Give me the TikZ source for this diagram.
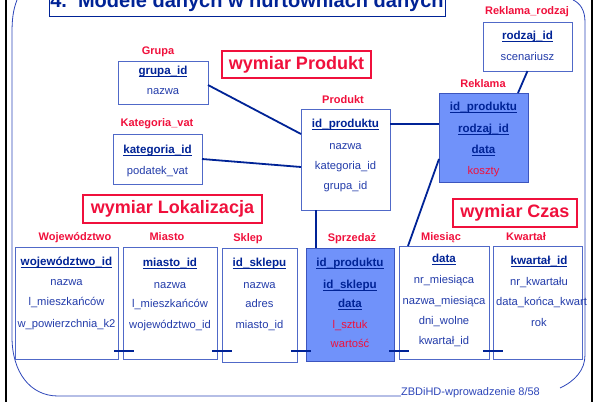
\documentclass[tikz,border=0pt]{standalone}
\usepackage{fontspec}
\setmainfont{Liberation Sans}
\definecolor{navy}{RGB}{0,35,150}
\definecolor{txtblue}{RGB}{35,60,170}
\definecolor{redc}{RGB}{240,16,60}
\definecolor{boxln}{RGB}{80,105,200}
\definecolor{fillb}{RGB}{112,146,250}
\definecolor{filledge}{RGB}{60,85,190}
\definecolor{frameb}{RGB}{45,70,185}
% bold key attribute with a heavy underline
\newcommand{\keyfield}[1]{\setbox0=\hbox{\bfseries #1}\rlap{\rule[-2.8pt]{\wd0}{1.2pt}}\box0}
\begin{document}
\begin{tikzpicture}[x=1pt,y=-1pt,
  tbl/.style={draw=boxln,line width=0.8pt,fill=white,inner sep=0,outer sep=0},
  facttbl/.style={tbl,draw=filledge,fill=fillb},
  tname/.style={anchor=mid,inner sep=0,text=redc,font=\fontsize{11}{13}\selectfont\bfseries},
  fld/.style={anchor=mid,inner sep=0,text=txtblue,font=\fontsize{11.2}{13}\selectfont},
  keyf/.style={fld,text=navy,font=\fontsize{11.6}{13}\selectfont},
  measure/.style={fld,text=redc},
  dimbox/.style={draw=redc,line width=1.6pt,fill=white,inner sep=0,text=redc,font=\fontsize{18}{20}\selectfont\bfseries},
  link/.style={draw=navy,line width=1.8pt},
  tick/.style={draw=navy,line width=2.6pt},
  frame/.style={draw=frameb,line width=0.8pt}]
\useasboundingbox (0,0) rectangle (595,402);
\clip (0,0) rectangle (595,402);

% slide frame
\draw[line width=2.4pt,black] (6,-2) -- (6,404);
\draw[line width=2.4pt,black] (592,-2) -- (592,404);
\node[inner sep=0,anchor=mid,text=frameb,font=\fontsize{11}{13}\selectfont] (footer) at (470.5,393) {ZBDiHD-wprowadzenie 8/58};
\draw[frame] (17,0) .. controls (13,10) and (12,20) .. (12,33) -- (12,337)
  .. controls (12,372) and (30,396) .. (58,396) -- (footer.west |- 0,396);
\draw[frame] (560,388) .. controls (575,381) and (585,370) .. (585,355) -- (585,22)
  .. controls (585,10) and (580,3) .. (573,0);

% title
\node[draw=navy,line width=0.8pt,fill=white,minimum width=396pt,minimum height=40pt,inner sep=0] (titlebox) at (247,-4) {};
\node[anchor=base,inner sep=0,text=navy,font=\fontsize{20}{22}\selectfont\bfseries] (title) at (247,7.5) {4.\ \ Modele danych w hurtowniach danych};

% dimension captions
\node[dimbox,minimum width=149pt,minimum height=27pt] (wprod) at (296.5,64.5) {wymiar Produkt};
\node[dimbox,minimum width=179pt,minimum height=28pt] (wlok) at (172.5,209) {wymiar Lokalizacja};
\node[dimbox,minimum width=124pt,minimum height=28pt] (wczas) at (515,213) {wymiar Czas};

% tables
\node[tbl,minimum width=90pt,minimum height=43pt] (grupa) at (163,82.5) {};
\node[tname] (grupa-t) at (158,52) {Grupa};
\node[keyf] (grupa-1) at (163,72) {\keyfield{grupa\_id}};
\node[fld] (grupa-2) at (163,92) {nazwa};

\node[tbl,minimum width=89pt,minimum height=49pt] (rrodzaj) at (527.5,46.5) {};
\node[tname] (rrodzaj-t) at (527,12) {Reklama\_rodzaj};
\node[keyf] (rrodzaj-1) at (527.5,37) {\keyfield{rodzaj\_id}};
\node[fld] (rrodzaj-2) at (527.5,58) {scenariusz};

\node[facttbl,minimum width=89pt,minimum height=89pt] (reklama) at (483.5,137.5) {};
\node[tname] (reklama-t) at (483,85) {Reklama};
\node[keyf] (reklama-1) at (483.5,108) {\keyfield{id\_produktu}};
\node[keyf] (reklama-2) at (483.5,130) {\keyfield{rodzaj\_id}};
\node[keyf] (reklama-3) at (483.5,151) {\keyfield{data}};
\node[measure] (reklama-4) at (483.5,172) {koszty};

\node[tbl,minimum width=89pt,minimum height=101pt] (produkt) at (345.5,159.5) {};
\node[tname] (produkt-t) at (343,101) {Produkt};
\node[keyf] (produkt-1) at (345.5,125) {\keyfield{id\_produktu}};
\node[fld] (produkt-2) at (345.5,147) {nazwa};
\node[fld] (produkt-3) at (345.5,167) {kategoria\_id};
\node[fld] (produkt-4) at (345.5,187) {grupa\_id};

\node[tbl,minimum width=89pt,minimum height=50pt] (katvat) at (157.5,159) {};
\node[tname] (katvat-t) at (157,124) {Kategoria\_vat};
\node[keyf] (katvat-1) at (157.5,151) {\keyfield{kategoria\_id}};
\node[fld] (katvat-2) at (157.5,172) {podatek\_vat};

\node[tbl,minimum width=103pt,minimum height=112pt] (woj) at (66.5,303) {};
\node[tname] (woj-t) at (75,238) {Województwo};
\node[keyf] (woj-1) at (66.5,263) {\keyfield{województwo\_id}};
\node[fld] (woj-2) at (66.5,283) {nazwa};
\node[fld] (woj-3) at (66.5,303) {l\_mieszkańców};
\node[fld] (woj-4) at (66.5,325) {w\_powierzchnia\_k2};

\node[tbl,minimum width=94pt,minimum height=112pt] (miasto) at (170,303) {};
\node[tname] (miasto-t) at (167,238) {Miasto};
\node[keyf] (miasto-1) at (170,264) {\keyfield{miasto\_id}};
\node[fld] (miasto-2) at (170,286) {nazwa};
\node[fld] (miasto-3) at (170,305) {l\_mieszkańców};
\node[fld] (miasto-4) at (170,326) {województwo\_id};

\node[tbl,minimum width=75pt,minimum height=114pt] (sklep) at (259.5,305) {};
\node[tname] (sklep-t) at (248,239) {Sklep};
\node[keyf] (sklep-1) at (259.5,264) {\keyfield{id\_sklepu}};
\node[fld] (sklep-2) at (259.5,286) {nazwa};
\node[fld] (sklep-3) at (259.5,305) {adres};
\node[fld] (sklep-4) at (259.5,326) {miasto\_id};

\node[facttbl,minimum width=88pt,minimum height=113pt] (sprzedaz) at (350,304.5) {};
\node[tname] (sprzedaz-t) at (352,239) {Sprzedaż};
\node[keyf] (sprzedaz-1) at (350,264) {\keyfield{id\_produktu}};
\node[keyf] (sprzedaz-2) at (350,286) {\keyfield{id\_sklepu}};
\node[keyf] (sprzedaz-3) at (350,305) {\keyfield{data}};
\node[measure] (sprzedaz-4) at (350,326) {l\_sztuk};
\node[measure] (sprzedaz-5) at (350,345) {wartość};

\node[tbl,minimum width=90pt,minimum height=113pt] (miesiac) at (444,302.5) {};
\node[tname] (miesiac-t) at (441,238) {Miesiąc};
\node[keyf] (miesiac-1) at (444,260) {\keyfield{data}};
\node[fld] (miesiac-2) at (444,281) {nr\_miesiąca};
\node[fld] (miesiac-3) at (444,302) {nazwa\_miesiąca};
\node[fld] (miesiac-4) at (444,322) {dni\_wolne};
\node[fld] (miesiac-5) at (444,342) {kwartał\_id};

\node[tbl,minimum width=89pt,minimum height=113pt] (kwartal) at (537.5,302.5) {};
\node[tname] (kwartal-t) at (526,238) {Kwartał};
\node[keyf] (kwartal-1) at (539,262) {\keyfield{kwartał\_id}};
\node[fld] (kwartal-2) at (539,283) {nr\_kwartału};
\node[fld] (kwartal-3) at (541.5,303) {data\_końca\_kwart};
\node[fld] (kwartal-4) at (539,324) {rok};

% relationships
\draw[link] ([yshift=-2.5pt]grupa.east) -- ([yshift=25.5pt]produkt.west);
\draw[link] (katvat.east) -- ([yshift=-7.5pt]produkt.west);
\draw[link] ([yshift=35.5pt]produkt.east) -- ([yshift=13.5pt]reklama.west);
\draw[link] (rrodzaj.south) -- ([xshift=34.5pt]reklama.north);
\draw[link] ([xshift=-29.5pt]produkt.south) -- ([xshift=-34pt]sprzedaz.north);
\draw[link] ([yshift=-21.5pt]reklama.west) -- ([xshift=-36pt]miesiac.north);

\draw[tick] ([xshift=-4pt,yshift=8pt]woj.south east) -- ([xshift=11pt,yshift=8pt]miasto.south west);
\draw[tick] ([xshift=-5pt,yshift=8pt]miasto.south east) -- ([xshift=10pt,yshift=11pt]sklep.south west);
\draw[tick] ([xshift=-6pt,yshift=11pt]sklep.south east) -- ([xshift=5pt,yshift=10pt]sprzedaz.south west);
\draw[tick] ([xshift=-5pt,yshift=10pt]sprzedaz.south east) -- ([xshift=10pt,yshift=8pt]miesiac.south west);
\draw[tick] ([xshift=-6pt,yshift=8pt]miesiac.south east) -- ([xshift=10pt,yshift=8pt]kwartal.south west);
\end{tikzpicture}
\end{document}
